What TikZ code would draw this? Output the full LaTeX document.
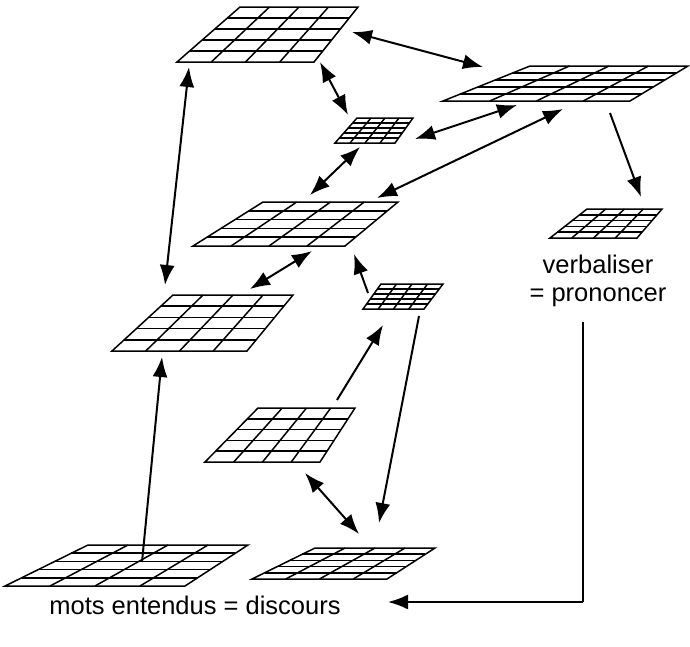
\documentclass[tikz,border=0pt]{standalone}
\usepackage{fontspec}
\setmainfont{Liberation Sans}
\usetikzlibrary{calc,arrows.meta}
\tikzset{
  gridline/.style={line width=1.5pt, line join=miter},
  tip/.tip={Latex[length=20pt,width=15pt]},
  conn/.style={line width=2pt, -tip},
  bconn/.style={line width=2pt, tip-tip},
  lbl/.style={font=\fontsize{25.5}{30}\selectfont, inner sep=0pt}
}
\newcommand\gridq[5]{%
  \coordinate (#1bl) at (#2); \coordinate (#1br) at (#3);
  \coordinate (#1tr) at (#4); \coordinate (#1tl) at (#5);
  \draw[gridline] (#1bl) -- (#1br) -- (#1tr) -- (#1tl) -- cycle;
  \foreach \i in {1,2,3} {\draw[gridline] ($(#1bl)!\i/4!(#1br)$) -- ($(#1tl)!\i/4!(#1tr)$);}
  \foreach \j in {1,2,3,4} {\draw[gridline] ($(#1bl)!\j/5!(#1tl)$) -- ($(#1br)!\j/5!(#1tr)$);}
}
\begin{document}
\begin{tikzpicture}[x=1pt,y=-1pt]
\useasboundingbox (0,0) rectangle (690,646);
% grids
\gridq{g1}{177,62}{314,62}{358,7}{240,7}
\gridq{g2}{443,101}{630,101}{688,66}{530,66}
\gridq{g3}{335,143}{395,143}{413,118}{357,118}
\gridq{g4}{193,246}{345,246}{398,202}{263,202}
\gridq{g5}{112,351}{247,351}{293,295}{173,295}
\gridq{g6}{363,309}{424,309}{443,284}{381,284}
\gridq{g7}{550,238}{637,238}{662,209}{587,209}
\gridq{g8}{205,462}{320,462}{355,408}{258,408}
\gridq{g9}{5,586}{185,586}{248,545}{88,545}
\gridq{g10}{252,579}{387,579}{435,548}{315,548}
% arrow end points
\coordinate (a1s) at (352,32);  \coordinate (a1e) at (483,67);
\coordinate (a2s) at (189,67);  \coordinate (a2e) at (165,285);
\coordinate (a3s) at (320,62);  \coordinate (a3e) at (348,115);
\coordinate (a4s) at (415,139); \coordinate (a4e) at (517,105);
\coordinate (a5s) at (360,147); \coordinate (a5e) at (310,195);
\coordinate (a6s) at (377,198); \coordinate (a6e) at (563,109);
\coordinate (a7s) at (610,113); \coordinate (a7e) at (641,197);
\coordinate (a8s) at (250,289); \coordinate (a8e) at (312,251);
\coordinate (a9s) at (368,293); \coordinate (a9e) at (354,254);
\coordinate (a10s) at (337,400); \coordinate (a10e) at (383,325);
\coordinate (a11s) at (419,316); \coordinate (a11e) at (379,523);
\coordinate (a12s) at (305,473); \coordinate (a12e) at (359,534);
\coordinate (a13s) at (142,562); \coordinate (a13e) at (162,357);
% connectors
\draw[bconn] (a1s) -- (a1e);
\draw[bconn] (a2s) -- (a2e);
\draw[bconn] (a3s) -- (a3e);
\draw[bconn] (a4s) -- (a4e);
\draw[bconn] (a5s) -- (a5e);
\draw[bconn] (a6s) -- (a6e);
\draw[conn] (a7s) -- (a7e);
\draw[bconn] (a8s) -- (a8e);
\draw[conn] (a9s) -- (a9e);
\draw[conn] (a10s) -- (a10e);
\draw[conn] (a11s) -- (a11e);
\draw[bconn] (a12s) -- (a12e);
\draw[conn] (a13s) -- (a13e);
% texts
\node[lbl] (verb) at (598,264) {verbaliser};
\node[lbl] (pron) at (598,297) {= prononcer};
\node[lbl] (mots) at (195,605) {mots entendus = discours};
\coordinate (ls) at (583,322);
\coordinate (lc) at (583,602);
\coordinate (le) at (388,602);
\draw[line width=2pt] (ls) -- (lc);
\draw[conn] (lc) -- (le);
\end{tikzpicture}
\end{document}
